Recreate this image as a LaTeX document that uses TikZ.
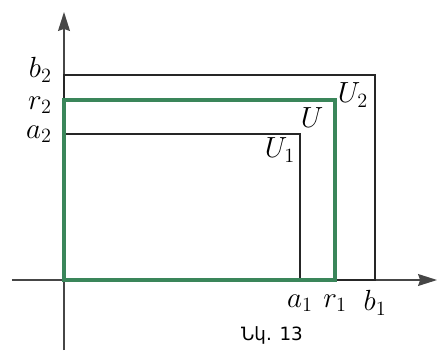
\documentclass[tikz,border=0pt]{standalone}
\usepackage{fontspec}
\usetikzlibrary{arrows.meta}
\newfontfamily\armfont{DejaVu Sans}
\definecolor{setgreen}{RGB}{58,134,90}
\definecolor{axisgray}{RGB}{70,70,70}

\begin{document}
\begin{tikzpicture}[x=0.025cm,y=0.025cm,
    axis/.style={axisgray,line width=0.9pt,-{Stealth[length=13.5pt,width=8.5pt,inset=1.5pt]}},
    thinbox/.style={black!85,line width=0.8pt},
    greenbox/.style={setgreen,line width=2.6pt},
    lbl/.style={font=\fontsize{20}{22}\selectfont,inner sep=0pt}]
  \useasboundingbox (-64,-70) rectangle (376,280);

  % corners of the three boxes
  \coordinate (O) at (0,0);
  \coordinate (A) at (236,146);
  \coordinate (R) at (271,180);
  \coordinate (B) at (311,205);

  % axes
  \coordinate (xs) at (-52,0);
  \coordinate (xe) at (373,0);
  \coordinate (ys) at (0,-70);
  \coordinate (ye) at (0,268);
  \draw[axis] (xs) -- (xe);
  \draw[axis] (ys) -- (ye);

  % U_1, U_2 and U
  \draw[thinbox] (O) rectangle (A);
  \draw[thinbox] (O) rectangle (B);
  \draw[greenbox] (O) rectangle (R);

  % values on the axes
  \foreach \n/\c/\t/\d in {a/A/a/0, r/R/r/-5, b/B/b/5} {
    \node[lbl] (\n1) at (\c |- 0,-23) {$\t_1$};
    \node[lbl,anchor=east] (\n2) at ([yshift=\d*0.025cm]-12,0 |- \c) {$\t_2$};
  }

  % set names
  \node[lbl] (u2) at (289,185) {$U_2$};
  \node[lbl] (u) at (248,162) {$U$};
  \node[lbl] (u1) at (216,130) {$U_1$};

  \node[font=\armfont\fontsize{13}{15}\selectfont] (cap) at (208,-55) {Նկ. 13};
\end{tikzpicture}
\end{document}
